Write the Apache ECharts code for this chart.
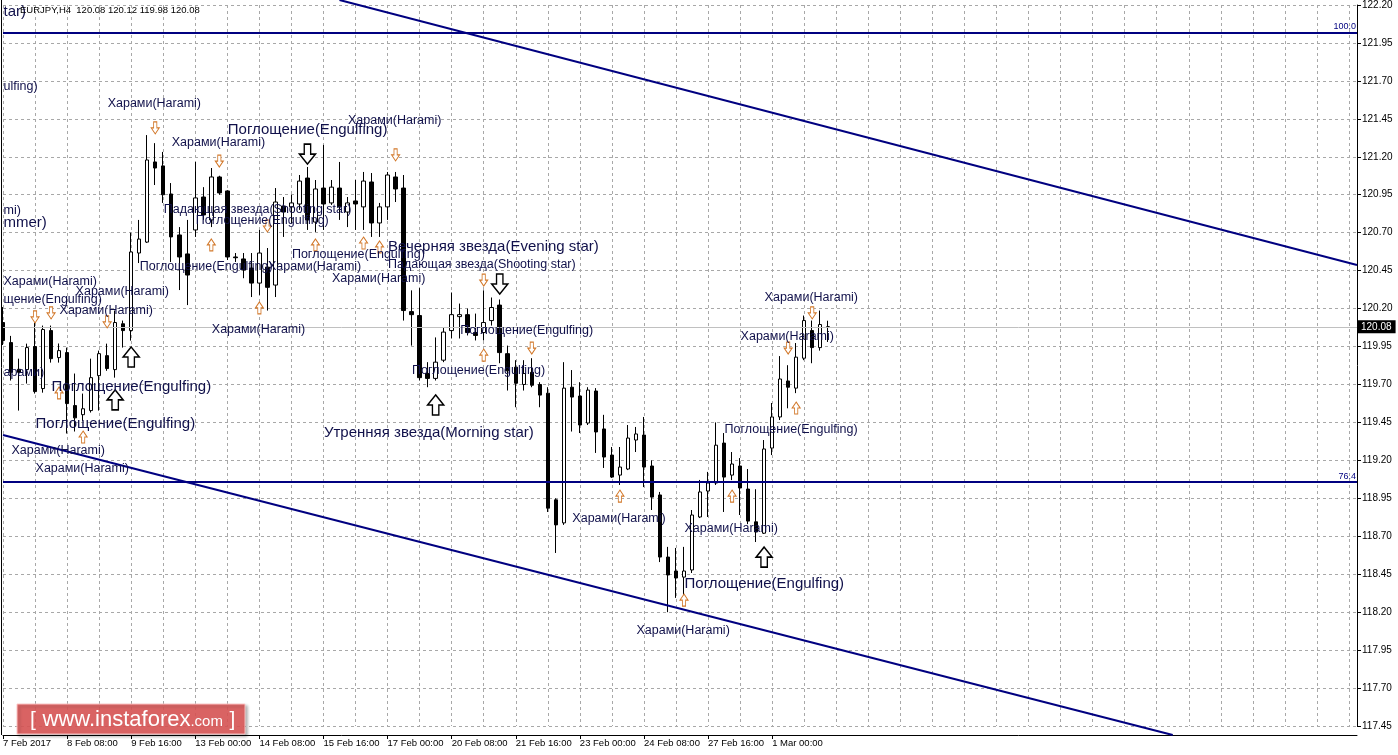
<!DOCTYPE html>
<html>
<head>
<meta charset="utf-8">
<script src="https://cdn.jsdelivr.net/npm/echarts@6/dist/echarts.min.js"></script>
<style>
html,body{margin:0;padding:0;background:#fff;}
#c{width:1398px;height:755px;}
</style>
</head>
<body>
<div id="c"></div>
<script>
// ---- data ----
const open  = [120.108,119.976,119.80,119.798,119.95,119.673,120.055,119.877,119.91,119.561,119.501,119.528,119.758,119.89,119.798,120.10,120.055,120.566,120.638,121.166,121.14,120.955,120.685,120.56,120.718,120.935,120.784,121.067,120.975,120.54,120.527,120.467,120.368,120.473,120.355,120.876,120.87,120.889,121.06,120.77,120.994,120.896,120.994,120.836,120.909,120.87,121.034,120.764,120.87,121.067,120.994,120.18,120.154,119.772,119.74,119.86,120.055,120.147,120.16,120.042,120.042,120.121,120.223,119.903,119.814,119.70,119.78,119.70,119.643,118.94,118.788,119.682,119.624,119.446,119.657,119.407,119.235,119.103,119.143,119.334,119.367,119.163,118.972,118.563,118.471,118.431,118.478,118.827,118.998,119.051,119.314,119.103,119.163,119.011,118.795,118.72,119.281,119.486,119.723,119.676,119.873,120.055,119.943,120.08];
const close = [119.99,119.78,119.78,119.943,119.653,120.062,119.87,119.923,119.574,119.48,119.54,119.745,119.903,119.805,120.108,120.055,120.573,120.658,121.179,121.126,120.95,120.672,120.54,120.421,120.929,120.817,121.067,120.962,120.54,120.535,120.454,120.368,120.566,120.34,120.902,120.836,120.896,121.04,120.784,120.988,120.889,121.0,120.87,120.896,120.889,121.04,120.764,120.87,121.08,120.988,120.187,120.16,119.745,119.74,119.847,120.045,120.16,120.16,120.042,120.023,120.108,120.207,119.91,119.79,119.708,119.772,119.695,119.63,118.885,118.775,119.676,119.617,119.433,119.663,119.387,119.222,119.09,119.156,119.347,119.374,119.156,118.958,118.563,118.445,118.425,118.471,118.84,118.992,119.051,119.30,119.09,119.176,119.018,118.80,118.728,119.275,119.486,119.736,119.682,119.88,120.121,119.943,120.095,120.08];
const low   = [119.96,119.726,119.528,119.706,119.64,119.646,119.844,119.844,119.377,119.39,119.46,119.515,119.528,119.79,119.745,119.943,119.989,120.50,120.632,121.014,120.896,120.507,120.322,120.223,120.672,120.784,120.737,120.95,120.52,120.507,120.40,120.276,120.29,120.187,120.276,120.672,120.764,120.85,120.718,120.705,120.718,120.883,120.784,120.737,120.718,120.718,120.672,120.672,120.784,120.902,120.121,119.956,119.726,119.682,119.726,119.847,120.003,120.003,120.023,119.99,119.99,120.088,119.84,119.66,119.55,119.66,119.682,119.55,118.86,118.59,118.775,119.39,119.38,119.433,119.249,119.15,119.084,119.038,119.136,119.255,119.024,118.873,118.53,118.20,118.294,118.30,118.458,118.82,118.827,119.038,118.86,119.07,118.84,118.78,118.662,118.715,119.235,119.466,119.543,119.643,119.86,119.84,119.923,119.98];
const high  = [120.21,120.02,119.87,119.969,120.108,120.088,120.088,119.97,119.943,119.772,119.64,119.87,119.923,119.969,120.187,120.121,120.70,120.784,121.343,121.29,121.232,121.027,120.737,120.784,121.166,121.0,121.126,121.075,120.98,120.566,120.566,120.566,120.718,120.599,120.994,120.935,120.95,121.08,121.133,121.047,121.278,121.047,121.166,120.935,121.047,121.10,121.093,120.896,121.10,121.10,121.08,120.32,120.335,119.847,120.01,120.078,120.306,120.233,120.20,120.167,120.32,120.273,120.26,119.956,119.86,119.86,119.873,119.715,119.682,118.95,119.847,119.795,119.715,119.682,119.676,119.50,119.288,119.288,119.433,119.42,119.486,119.20,118.992,118.63,118.623,118.63,118.873,119.071,119.124,119.45,119.38,119.255,119.215,119.143,119.01,119.334,119.578,119.887,119.827,119.973,120.154,120.121,120.187,120.12];

const slotCount = 170;
const categories = Array.from({length: slotCount}, (_, i) => String(i));
const tickLabels = ['7 Feb 2017','8 Feb 08:00','9 Feb 16:00','13 Feb 00:00','14 Feb 08:00','15 Feb 16:00','17 Feb 00:00','20 Feb 08:00','21 Feb 16:00','23 Feb 00:00','24 Feb 08:00','27 Feb 16:00','1 Mar 00:00'];
const priceTicks = {min: 117.45, max: 122.20, step: 0.25};

const currentPrice = 120.08;
const headerText = 'EURJPY,H4  120.08 120.12 119.98 120.08';
const fibLevels = [{name: '100.0', value: 122.015}, {name: '76.4', value: 119.064}];
const upperChannel = [[42.44, 122.233], [169, 120.487]];
const lowerChannel = [[-0.374, 119.367], [145.9, 117.391]];

const smallLabels = [
  [-0.374,121.666,'ulfing)'],
  [13.23,121.548,'Харами(Harami)'],
  [43.06,121.442,'Харами(Harami)'],
  [21.22,121.297,'Харами(Harami)'],
  [-0.374,120.843,'mi)'],
  [19.85,120.85,'Падающая звезда(Shooting star)'],
  [24.46,120.777,'Поглощение(Engulfing)'],
  [17.47,120.474,'Поглощение(Engulfing)'],
  [33.07,120.474,'Харами(Harami)'],
  [36.45,120.553,'Поглощение(Engulfing)'],
  [47.68,120.487,'Падающая звезда(Shooting star)'],
  [41.19,120.395,'Харами(Harami)'],
  [0.25,120.375,'Харами(Harami)'],
  [9.24,120.309,'Харами(Harami)'],
  [-0.374,120.257,'щение(Engulfing)'],
  [7.24,120.184,'Харами(Harami)'],
  [26.09,120.059,'Харами(Harami)'],
  [57.41,120.052,'Поглощение(Engulfing)'],
  [51.42,119.789,'Поглощение(Engulfing)'],
  [-0.374,119.776,'арами)'],
  [1.12,119.262,'Харами(Harami)'],
  [4.12,119.143,'Харами(Harami)'],
  [90.36,119.40,'Поглощение(Engulfing)'],
  [92.11,120.019,'Харами(Harami)'],
  [95.11,120.27,'Харами(Harami)'],
  [71.14,118.82,'Харами(Harami)'],
  [85.12,118.748,'Харами(Harami)'],
  [79.13,118.076,'Харами(Harami)']
];
const bigLabels = [
  [-0.374,122.154,'tar)'],
  [27.83,121.377,'Поглощение(Engulfing)'],
  [-0.374,120.764,'mmer)'],
  [48.05,120.606,'Вечерняя звезда(Evening star)'],
  [5.62,119.683,'Поглощение(Engulfing)'],
  [3.87,119.44,'Поглощение(Engulfing)'],
  [40.19,119.38,'Утренняя звезда(Morning star)'],
  [84.62,118.386,'Поглощение(Engulfing)']
];
const smallDown = [[18.72,121.39],[26.71,121.172],[48.68,121.212],[32.58,120.744],[59.66,120.388],[3.74,120.145],[5.87,120.171],[12.73,120.112],[65.65,119.94],[97.6,119.94],[100.72,120.171]];
const smallUp = [[25.96,120.619],[38.94,120.619],[44.81,120.632],[46.8,120.606],[31.95,120.204],[59.91,119.894],[6.99,119.644],[9.74,119.354],[98.85,119.545],[76.88,118.965],[90.86,118.965],[84.87,118.28]];
const bigDown = [[37.94,121.218],[61.66,120.362]];
const bigUp = [[15.98,119.881],[53.79,119.565],[94.86,118.563],[13.98,119.598]];

// ---- chart ----
const FONT = "'Liberation Sans', Arial, sans-serif";
const UP_PATH = 'path://M50,0 L100,50 L70,50 L70,100 L30,100 L30,50 L0,50 Z';
const DOWN_PATH = 'path://M30,0 L70,0 L70,50 L100,50 L50,100 L0,50 L30,50 Z';
const isLabelIdx = i => i % 8 === 0 && i / 8 < tickLabels.length;

const candles = open.map((o, i) => [o, close[i], low[i], high[i]]);

function arrowSeries(data, path, size, border, bw) {
  return {
    type: 'scatter', data: data, symbol: path, symbolSize: size, symbolKeepAspect: false,
    itemStyle: {color: '#ffffff', borderColor: border, borderWidth: bw, opacity: 1},
    clip: false, silent: true, z: 8
  };
}
function textSeries(data, size) {
  return {
    type: 'scatter', data: data.map(d => ({value: [d[0], d[1]], name: d[2]})),
    symbolSize: 1, itemStyle: {color: 'rgba(0,0,0,0)', borderWidth: 0},
    label: {show: true, position: 'right', distance: 0, padding: [4, 0, 0, 0], formatter: '{b}', color: '#10104a',
      fontSize: size, fontFamily: FONT, opacity: 1},
    labelLayout: {hideOverlap: false},
    clip: false, silent: true, z: 10
  };
}

const chart = echarts.init(document.getElementById('c'));
chart.setOption({
  animation: false,
  backgroundColor: '#ffffff',
  grid: {left: 3, right: 41, top: 5, bottom: 29},
  xAxis: {
    type: 'category', data: categories, boundaryGap: false, offset: 9,
    axisLine: {show: true, lineStyle: {color: '#000', width: 1}},
    axisTick: {show: true, interval: i => isLabelIdx(i), length: 4, lineStyle: {color: '#000'}},
    axisLabel: {interval: 0, formatter: (v, i) => isLabelIdx(i) ? tickLabels[i / 8] : '',
      align: 'left', color: '#000', fontSize: 9.5, fontFamily: FONT, margin: 3, hideOverlap: false},
    splitLine: {show: true, interval: i => i % 4 === 0, lineStyle: {color: '#a8a8a8', type: [3, 3], width: 1}}
  },
  yAxis: {
    type: 'value', position: 'right', min: priceTicks.min, max: priceTicks.max, interval: priceTicks.step,
    axisLine: {show: true, lineStyle: {color: '#000'}},
    axisTick: {show: true, length: 4, lineStyle: {color: '#000'}},
    axisLabel: {formatter: v => v.toFixed(2), color: '#000', fontSize: 10, fontFamily: FONT, margin: 5},
    splitLine: {show: true, lineStyle: {color: '#a8a8a8', type: [3, 3], width: 1}}
  },
  graphic: [
    {type: 'line', shape: {x1: 1.5, y1: 0, x2: 1.5, y2: 735}, style: {stroke: '#000', lineWidth: 1}, z: 20},
    {type: 'text', x: 20, y: 10, z: 25,
      style: {text: headerText, fill: '#000', font: '9.5px ' + FONT, verticalAlign: 'middle'}},
    {type: 'rect', x: 17, y: 704, shape: {width: 228, height: 30}, z: 30,
      style: {fill: 'rgba(222,88,88,0.88)', stroke: 'rgba(255,200,200,0.9)', lineWidth: 1,
        shadowBlur: 3, shadowColor: 'rgba(0,0,0,0.35)', shadowOffsetX: 2, shadowOffsetY: 2}},
    {type: 'text', x: 30, y: 720, z: 31,
      style: {text: '{a|[}  {b|www.instaforex}{c|.com}  {a|]}', verticalAlign: 'middle', fill: '#fff',
        rich: {a: {fontSize: 21, fill: '#fff', fontFamily: FONT},
               b: {fontSize: 22, fill: '#fff', fontFamily: FONT},
               c: {fontSize: 15, fill: '#fff', fontFamily: FONT, padding: [4, 0, 0, 0]}}}}
  ],
  series: [
    {
      type: 'candlestick', data: candles, barWidth: 4, clip: false, z: 3, silent: true,
      itemStyle: {color: '#ffffff', color0: '#000000', borderColor: '#000000', borderColor0: '#000000', borderColorDoji: '#000000', borderWidth: 1},
      markLine: {
        symbol: ['none', 'none'], silent: true, animation: false,
        data: [{yAxis: currentPrice, lineStyle: {color: '#c0c0c0', width: 1, type: 'solid'},
          label: {show: true, position: 'end', formatter: currentPrice.toFixed(2), backgroundColor: '#000', color: '#fff',
            padding: [2, 4, 1, 3], fontSize: 10, fontFamily: FONT, distance: 1}}]
      }
    },
    {
      type: 'line', data: [], silent: true, z: 6,
      markLine: {
        symbol: ['none', 'none'], silent: true, animation: false,
        lineStyle: {color: '#000080', width: 2, type: 'solid'},
        label: {show: true, position: 'insideEndTop', formatter: p => p.name, color: '#000080', fontSize: 9, fontFamily: FONT, distance: 1},
        data: fibLevels.map(l => ({name: l.name, yAxis: l.value}))
      }
    },
    {type: 'line', data: upperChannel, symbol: 'none', clip: false, silent: true, z: 6, lineStyle: {color: '#000080', width: 2}},
    {type: 'line', data: lowerChannel, symbol: 'none', clip: false, silent: true, z: 6, lineStyle: {color: '#000080', width: 2}},
    arrowSeries(smallDown, DOWN_PATH, [8, 12], '#d2782a', 1),
    arrowSeries(smallUp, UP_PATH, [8, 12], '#d2782a', 1),
    arrowSeries(bigDown, DOWN_PATH, [16, 20], '#000000', 1.5),
    arrowSeries(bigUp, UP_PATH, [16, 20], '#000000', 1.5),
    textSeries(smallLabels, 12.5),
    textSeries(bigLabels, 15)
  ]
});
</script>
</body>
</html>
